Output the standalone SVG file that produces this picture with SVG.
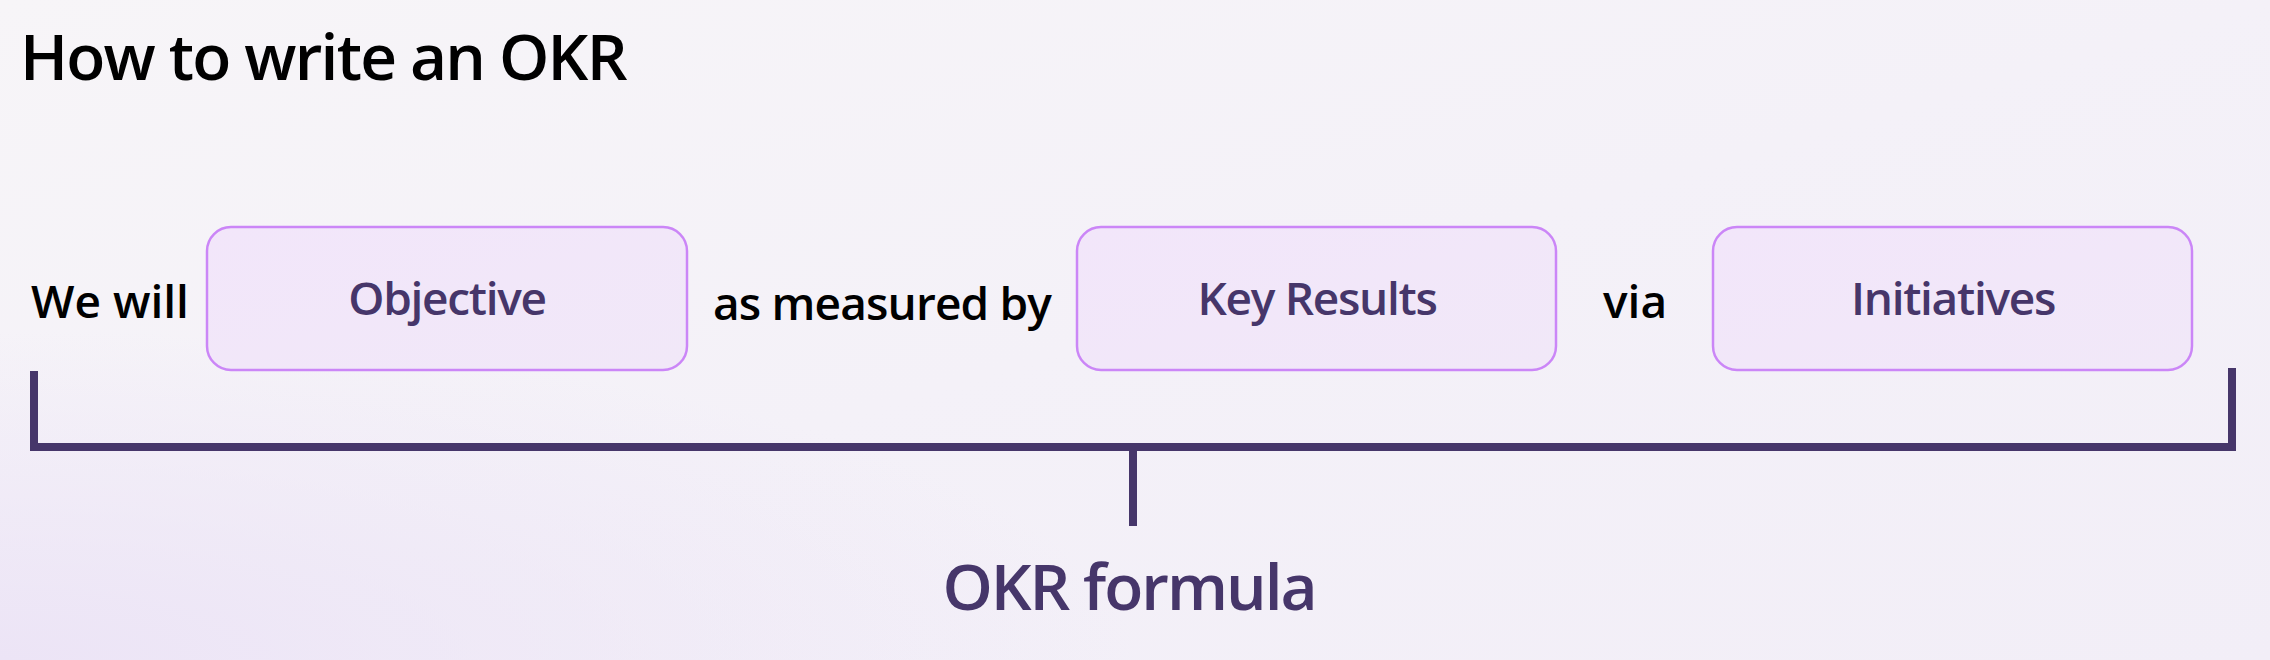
<svg xmlns="http://www.w3.org/2000/svg" width="2270" height="660" viewBox="0 0 2270 660">
  <defs>
    <linearGradient id="bg" x1="0" y1="0" x2="1" y2="1">
      <stop offset="0" stop-color="#F7F5F8"/>
      <stop offset="0.5" stop-color="#F4F1F8"/>
      <stop offset="1" stop-color="#F2EEF7"/>
    </linearGradient>
    <radialGradient id="glow" cx="0" cy="1" r="0.5">
      <stop offset="0" stop-color="#ECE4F6"/>
      <stop offset="1" stop-color="#ECE4F6" stop-opacity="0"/>
    </radialGradient>
    <linearGradient id="boxfill" x1="0" y1="0" x2="1" y2="1">
      <stop offset="0" stop-color="#F2E6FA"/>
      <stop offset="1" stop-color="#F1E8F8"/>
    </linearGradient>
  </defs>
  <style>
    text { font-family: "Open Sans", "Noto Sans", "DejaVu Sans", sans-serif; font-weight: 600; }
    .title { font-size: 64px; fill: #000000; letter-spacing: -1.8px; }
    .plain { font-size: 46px; fill: #000000; }
    .tight { letter-spacing: -0.85px; }
    .label { font-size: 46px; fill: #46366A; text-anchor: middle; letter-spacing: -1.3px; }
    .formula { font-size: 64px; fill: #46366A; text-anchor: middle; letter-spacing: -2px; }
    .box { fill: url(#boxfill); stroke: #CB86F7; stroke-width: 2.5; }
    .bracket { fill: none; stroke: #46366A; stroke-width: 8; stroke-linecap: butt; stroke-linejoin: miter; }
  </style>
  <rect x="0" y="0" width="2270" height="660" fill="url(#bg)"/>
  <rect x="0" y="0" width="2270" height="660" fill="url(#glow)"/>

  <text class="title" x="20" y="80">How to write an OKR</text>

  <text class="plain" x="31" y="318">We will</text>
  <text class="plain tight" x="713" y="320">as measured by</text>
  <text class="plain" x="1603" y="318">via</text>

  <g id="objective">
    <rect class="box" x="207" y="227" width="480" height="143" rx="24" ry="24"/>
    <text class="label" x="447" y="315">Objective</text>
  </g>
  <g id="key-results">
    <rect class="box" x="1077" y="227" width="479" height="143" rx="24" ry="24"/>
    <text class="label" x="1317" y="315">Key Results</text>
  </g>
  <g id="initiatives">
    <rect class="box" x="1713" y="227" width="479" height="143" rx="24" ry="24"/>
    <text class="label" x="1953" y="315">Initiatives</text>
  </g>

  <g id="connectors">
    <path class="bracket" d="M34 371 V447 H2232 V368"/>
    <path class="bracket" d="M1133 447 V526"/>
  </g>

  <g id="okr-formula">
    <text class="formula" x="1129" y="610">OKR formula</text>
  </g>
</svg>
